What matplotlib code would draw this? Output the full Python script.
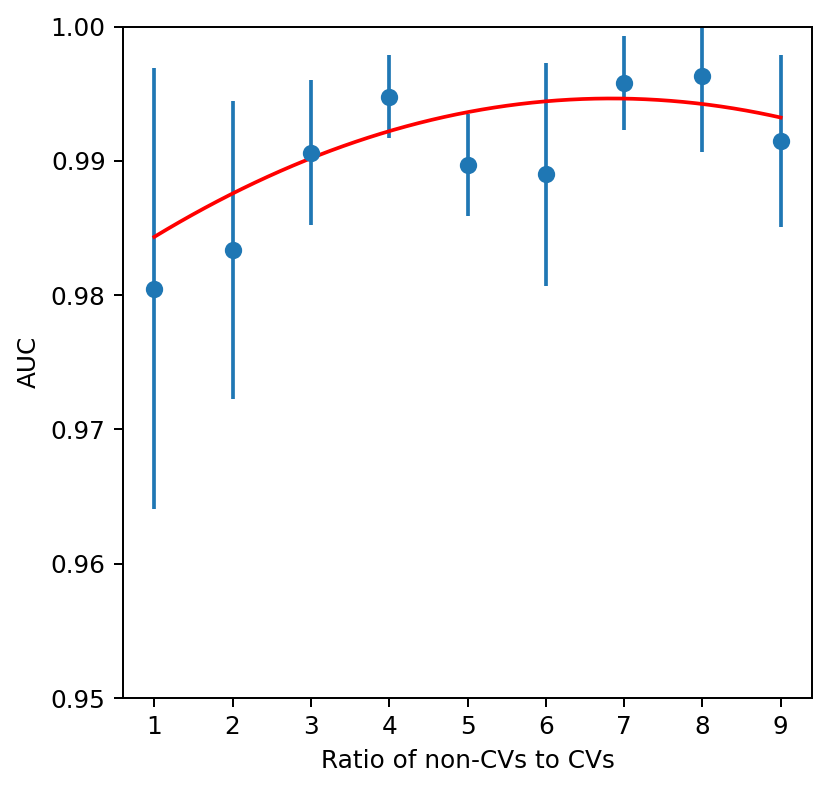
import numpy as np
import matplotlib
matplotlib.use("Agg")
import matplotlib.pyplot as plt

# ratio of non-CVs to CVs
ratios = [1, 2, 3, 4, 5, 6, 7, 8, 9]
# mean AUC and its spread per ratio
auc_mean = [0.9805, 0.9834, 0.9906, 0.9948, 0.9897, 0.9890, 0.9958, 0.9963, 0.9915]
auc_err = [0.0164, 0.0111, 0.0054, 0.0031, 0.0038, 0.0083, 0.0035, 0.0056, 0.0064]

DPI = 178


def main():
	fig = plt.figure(figsize=(831 / DPI, 792 / DPI), dpi=DPI)
	ax = fig.add_axes([123 / 831, 1 - 698 / 792, (812 - 123) / 831, (698 - 26.7) / 792])

	ax.errorbar(ratios, auc_mean, yerr=auc_err, fmt='o', color='C0')

	# quadratic fit through the means, weighted by 1/err
	coef = np.polyfit(ratios, auc_mean, 2, w=1 / np.array(auc_err))
	print(coef, np.polyval(coef, [1, 9]))
	xs = np.linspace(ratios[0], ratios[-1], 200)
	ax.plot(xs, np.polyval(coef, xs), color='red', linewidth=1.5)

	ax.set_ylim(0.95, 1.0)
	ax.set_xticks(ratios)
	ax.set_xlabel('Ratio of non-CVs to CVs')
	ax.set_ylabel('AUC')

	fig.savefig('out.png', dpi=DPI)


if __name__ == '__main__':
	main()
